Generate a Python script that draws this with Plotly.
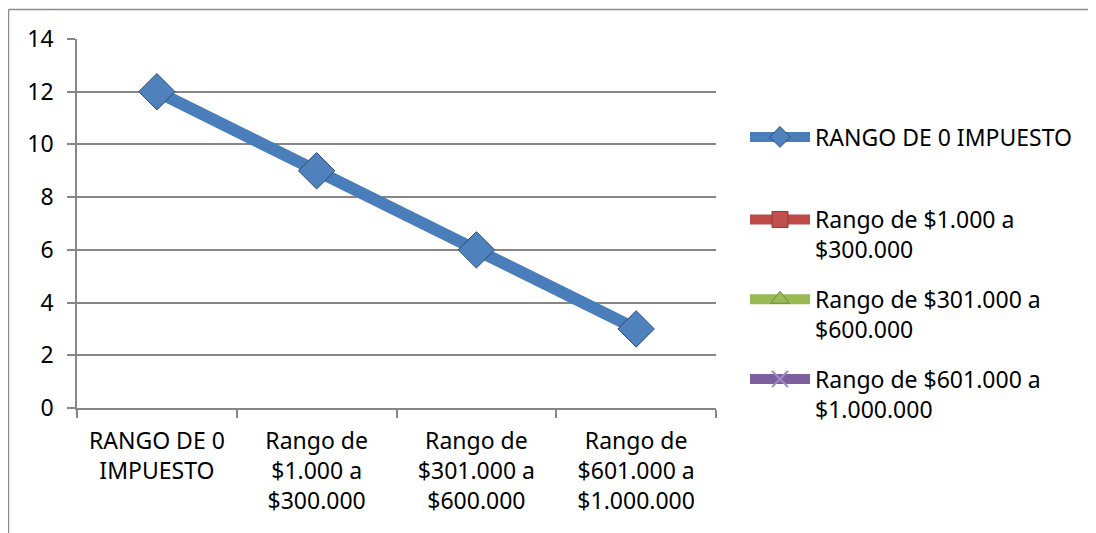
import plotly.graph_objects as go

categories = ["RANGO DE 0<br>IMPUESTO", "Rango de<br>$1.000 a<br>$300.000",
              "Rango de<br>$301.000 a<br>$600.000", "Rango de<br>$601.000 a<br>$1.000.000"]
series_names = ["RANGO DE 0 IMPUESTO", "Rango de $1.000 a<br>$300.000",
                "Rango de $301.000 a<br>$600.000", "Rango de $601.000 a<br>$1.000.000"]
series_values = [
    [12, 9, 6, 3],
    [None, None, None, None],
    [None, None, None, None],
    [None, None, None, None],
]
line_colors = ["#4a7ebb", "#be4b48", "#98b954", "#7d60a0"]
marker_colors = ["#4f81bd", "#c0504d", "#9bbb59", "#a08bc0"]
marker_lines = ["#2c4d75", "#8c3836", "#71893f", "#a08bc0"]
symbols = ["diamond", "square", "triangle-up", "x-thin"]
y_ticks = [0, 2, 4, 6, 8, 10, 12, 14]

FONT = "Noto Sans"
FS = 23
GRID = "#878787"

# page body has an 8px margin: work in screen pixels and convert
OFF = 8
W, H = 1096 - OFF, 533 - OFF
PL, PR, PT, PB = 77, 716, 39, 408  # plot area in screen pixels
L, R, T, B = PL - OFF, W - (PR - OFF), PT - OFF, H - (PB - OFF)
pw, ph = W - L - R, H - T - B


def px(x):
    return (x - OFF - L) / pw


def py(y):
    return (H - B - (y - OFF)) / ph


fig = go.Figure()
for i, (name, vals) in enumerate(zip(series_names, series_values)):
    fig.add_trace(go.Scatter(
        x=categories, y=vals, name=name, mode="lines+markers",
        line=dict(color=line_colors[i], width=12),
        marker=dict(symbol=symbols[i], size=28, color=marker_colors[i],
                    line=dict(color=marker_lines[i], width=1 if i < 3 else 2)),
        legend="legend" if i == 0 else "legend2",
        legendgroup=f"g{i}",
    ))

fig.update_layout(
    width=W, height=H,
    margin=dict(l=L, r=R, t=T, b=B),
    paper_bgcolor="white", plot_bgcolor="white",
    font=dict(family=FONT, size=FS, color="#000000"),
    showlegend=True,
    legend=dict(x=px(745), y=py(137), xanchor="left", yanchor="middle",
                font=dict(family=FONT, size=FS), valign="top",
                itemwidth=60, bgcolor="rgba(0,0,0,0)", borderwidth=0),
    legend2=dict(x=px(745), y=py(198), xanchor="left", yanchor="top",
                 font=dict(family=FONT, size=FS), valign="top",
                 tracegroupgap=17, itemwidth=60,
                 bgcolor="rgba(0,0,0,0)", borderwidth=0),
    xaxis=dict(type="category", range=[-0.5, len(categories) - 0.5],
               showgrid=False, showline=True, linecolor=GRID,
               linewidth=1.5, ticks="outside", tickson="boundaries", ticklen=8,
               tickcolor=GRID, tickwidth=1.5, tickfont=dict(size=FS),
               zeroline=False, ticklabelstandoff=12),
    yaxis=dict(range=[0, 14], tickvals=y_ticks, showgrid=True, gridcolor=GRID,
               gridwidth=1.5, showline=True, linecolor=GRID, linewidth=1.5,
               ticks="outside", ticklen=8, tickcolor=GRID, tickwidth=1.5,
               zeroline=False, tickfont=dict(size=FS), ticklabelstandoff=9),
    shapes=[
        dict(type="line", xref="paper", yref="paper", x0=px(8.5), x1=px(8.5),
             y0=py(9.5), y1=py(545), line=dict(color="#8c8c8c", width=1.5)),
        dict(type="line", xref="paper", yref="paper", x0=px(8.5), x1=px(1110),
             y0=py(9.5), y1=py(9.5), line=dict(color="#8c8c8c", width=1.5)),
    ],
)

fig.write_html("out.html")
